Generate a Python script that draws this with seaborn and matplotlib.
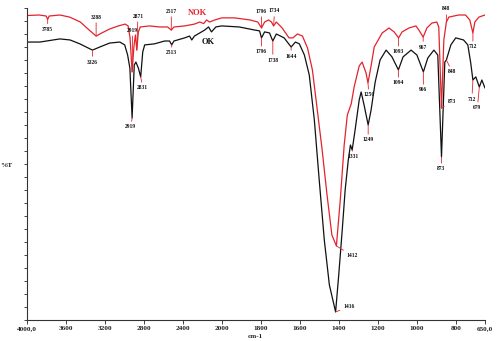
import numpy as np
import pandas as pd
import matplotlib
matplotlib.use("Agg")
import matplotlib.pyplot as plt
import seaborn as sns

# ---- spectra: wavenumber (cm-1) and transmittance (%T) ----
nok_wn = [4000, 3870, 3800, 3785, 3770, 3660, 3560, 3450, 3350, 3288, 3230, 3150,
          3060, 2990, 2960, 2940, 2919, 2900, 2885, 2871, 2855, 2835, 2740, 2640,
          2555, 2517, 2490, 2380, 2280, 2225, 2185, 2155, 2125, 2070, 2000, 1935,
          1855, 1815, 1796, 1780, 1760, 1745, 1734, 1720, 1690, 1655, 1635, 1612,
          1586, 1560, 1535, 1510, 1485, 1460, 1435, 1412, 1392, 1372, 1356, 1336,
          1321, 1295, 1280, 1260, 1250, 1235, 1218, 1177, 1142, 1116, 1093, 1075,
          1040, 1004, 989, 967, 948, 922, 897, 887, 873, 861, 848, 835, 785, 750,
          728, 712, 702, 681, 650]
nok_t = [117.1, 117.3, 116.9, 115.6, 116.9, 117.3, 116.5, 114.6, 111.2, 109.2, 110.4, 111.9,
         113.1, 113.8, 113.1, 108.5, 95.4, 105.4, 109.6, 103.8, 110.8, 112.7, 113.1, 112.7,
         112.7, 111.5, 112.7, 113.1, 113.8, 114.6, 114.0, 115.4, 114.6, 115.4, 116.2, 116.2,
         115.4, 114.6, 112.3, 114.6, 115.4, 114.6, 113.1, 114.6, 112.3, 108.5, 108.5, 110.0,
         109.2, 104.6, 96.2, 80.8, 65.4, 48.1, 32.7, 28.5, 46.2, 67.3, 78.8, 83.1,
         89.6, 97.7, 99.2, 95.0, 91.2, 97.3, 105.0, 110.4, 112.3, 110.8, 108.5, 110.8,
         112.3, 113.1, 111.5, 108.8, 112.3, 114.2, 114.6, 112.7, 81.5, 107.7, 114.6, 116.5, 117.3, 117.3,
         115.4, 110.4, 114.6, 116.5, 117.3]

ok_wn = [4000, 3865, 3660, 3555, 3455, 3326, 3250, 3150, 3045, 2995, 2965, 2942,
         2919, 2897, 2880, 2855, 2831, 2810, 2790, 2690, 2585, 2535, 2513, 2490,
         2380, 2330, 2307, 2280, 2175, 2135, 2105, 2060, 2000, 1910, 1830, 1806,
         1796, 1780, 1755, 1738, 1720, 1680, 1644, 1622, 1602, 1576, 1551, 1525,
         1500, 1474, 1448, 1416, 1400, 1382, 1367, 1351, 1340, 1331, 1316, 1295,
         1285, 1270, 1249, 1234, 1213, 1188, 1157, 1127, 1094, 1070, 1029, 999,
         966, 943, 912, 892, 873, 856, 848, 825, 800, 760, 738, 723, 712, 697,
         679, 666, 650]
ok_t = [106.9, 106.9, 108.1, 107.7, 106.2, 103.8, 105.0, 106.5, 106.9, 105.8, 101.9, 96.9,
        77.7, 98.1, 99.2, 96.9, 93.5, 103.1, 105.8, 106.2, 107.3, 107.3, 105.8, 107.3,
        108.5, 109.2, 107.7, 109.2, 111.5, 112.7, 110.8, 112.7, 113.1, 112.7, 111.5, 111.2,
        108.5, 110.8, 110.4, 107.3, 110.0, 108.5, 105.0, 106.9, 106.2, 101.9, 94.2, 76.9,
        53.8, 30.8, 13.5, 3.1, 17.3, 34.6, 50.0, 61.5, 67.3, 65.4, 73.1, 84.6,
        87.7, 82.7, 75.0, 80.8, 91.5, 100.0, 103.8, 101.2, 96.2, 101.2, 103.8, 101.9,
        95.4, 100.8, 103.8, 101.9, 62.7, 99.2, 100.0, 105.8, 108.5, 107.7, 105.8, 98.8, 92.3, 93.5,
        89.6, 92.3, 89.2]

# labelled bands
nok_peaks = [3785, 3288, 2919, 2871, 2517, 1796, 1734, 1412, 1250, 1093, 967, 873, 848, 712]
ok_peaks = [3326, 2919, 2831, 2513, 1796, 1738, 1644, 1416, 1331, 1249, 1094, 966, 873, 848, 712, 679]

x_ticks = [4000, 3600, 3200, 2800, 2400, 2000, 1800, 1600, 1400, 1200, 1000, 800, 650]
x_tick_labels = ["4000,0", "3600", "3200", "2800", "2400", "2000", "1800", "1600",
                 "1400", "1200", "1000", "800", "650,0"]

# label offsets from each band (points)
nok_offsets = [(0, -7.2), (0, 13.7), (0.4, 30), (0.8, 24.5), (0, 13.7), (0, 12.2), (0.7, 10.8),
               (11.5, -7.2), (0.7, -8.6), (0, -10), (0, -7.2), (7.4, 5), (0, 9.4), (0, -10)]
ok_offsets = [(0, -8.6), (-1, -6.5), (1.5, -8), (0, -5.8), (0, -10), (0, -13.7), (0, -6.5),
              (9.5, 3.6), (1, -5), (0, -10.8), (0, -9.4), (0, -13), (0, -8.6), (4.3, -8.6),
              (-0.7, -13.7), (-1.4, -15)]

RED = "#e3232c"
SERIF = ["Liberation Serif", "DejaVu Serif"]

sns.set_style("ticks")
plt.rcParams["font.family"] = SERIF

df = pd.concat([
    pd.DataFrame({"wn": nok_wn, "T": nok_t, "sample": "NOK"}),
    pd.DataFrame({"wn": ok_wn, "T": ok_t, "sample": "OK"}),
])

fig = plt.figure(figsize=(5.02, 3.41), dpi=100)
ax = fig.add_axes([0.0532, 0.0616, 0.9129, 0.915])

sns.lineplot(data=df, x="wn", y="T", hue="sample", palette={"NOK": RED, "OK": "#111111"},
             estimator=None, legend=False, linewidth=0.9, ax=ax)


# abscissa expanded x2 below 2000 cm-1
def fwd(x):
    x = np.asarray(x, dtype=float)
    return np.where(x > 2000, 2000 + (x - 2000) / 2.0, x)


def inv(u):
    u = np.asarray(u, dtype=float)
    return np.where(u > 2000, 2000 + (u - 2000) * 2.0, u)


ax.set_xscale("function", functions=(fwd, inv))
ax.set_xlim(4000, 650)
ax.set_ylim(0, 120)
ax.set_xticks(x_ticks)
ax.set_xticklabels(x_tick_labels, fontsize=5.2, fontweight="bold")
ax.xaxis.set_minor_locator(matplotlib.ticker.NullLocator())
ax.set_yticks(np.arange(0, 121, 5))
ax.set_yticklabels([])
ax.tick_params(axis="x", length=3, width=0.6, pad=1.5, colors="#222222")
ax.tick_params(axis="y", length=2.5, width=0.6)
for side in ("top", "right"):
    ax.spines[side].set_visible(False)
for side in ("left", "bottom"):
    ax.spines[side].set_linewidth(0.8)
    ax.spines[side].set_color("#333333")

ax.set_xlabel("cm-1", fontsize=5.2, fontweight="bold", va="center")
ax.xaxis.set_label_coords(0.5, -0.052)
ax.set_ylabel("%T", fontsize=5.2, fontweight="bold", rotation=0)
ax.yaxis.set_label_coords(-0.045, 0.487)


def annotate_peaks(wn, t, peaks, offsets, color):
    w = np.asarray(wn, dtype=float)[::-1]
    v = np.asarray(t, dtype=float)[::-1]
    for p, (dx, dy) in zip(peaks, offsets):
        ax.annotate(str(p), xy=(p, np.interp(p, w, v)), xytext=(dx, dy),
                    textcoords="offset points", ha="center", va="center",
                    fontsize=4, fontweight="bold", color="#111111",
                    arrowprops=dict(arrowstyle="-", color=color, lw=0.6,
                                    shrinkA=0, shrinkB=0))


annotate_peaks(nok_wn, nok_t, nok_peaks, nok_offsets, RED)
annotate_peaks(ok_wn, ok_t, ok_peaks, ok_offsets, RED)

ax.text(2246, 118.1, "NOK", color=RED, fontsize=6, fontweight="bold", ha="center", va="center")
ax.text(2144, 106.9, "OK", color="#111111", fontsize=6, fontweight="bold", ha="center", va="center")

fig.savefig("out.png", dpi=100)
